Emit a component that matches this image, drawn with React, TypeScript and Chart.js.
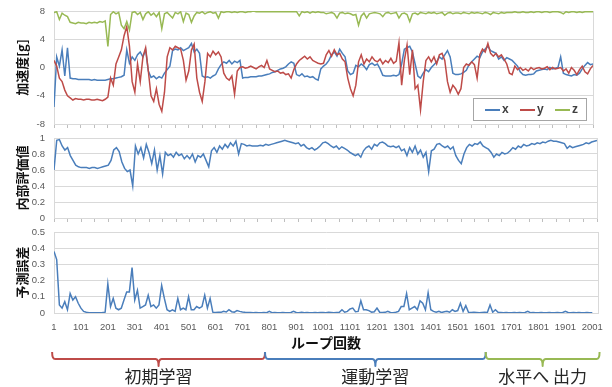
import React, { useEffect, useRef } from "react";
import { Chart, registerables } from "chart.js";

Chart.register(...registerables);

// ---- data (one value every LOOP_STEP loops, starting at loop 1) ----
const LOOP_STEP = 10;
const FIRST_LOOP = 1;
const LAST_LOOP = 2001;

const xLabelTicks = [1, 101, 201, 301, 401, 501, 601, 701, 801, 901, 1001, 1101, 1201, 1301, 1401, 1501, 1601, 1701, 1801, 1901, 2001];

const seriesNames = ["x", "y", "z"];

const accelX = [
  -5.6, 1.5, 0.2, 2.5, -1.2, 2.8, -1.5, -1.6, -1.6, -1.7,
  -1.7, -1.7, -1.7, -1.7, -1.8, -1.7, -1.8, -1.8, -1.8, -1.8,
  -1.7, -1.6, -1.6, -1.5, -1.4, -1.3, -1.1, 2.5, 0.6, 1.5,
  1.0, 1.8, 2.2, 1.5, 2.5, -0.5, -1.4, -1.2, -1.6, -1.3,
  -1.5, -0.8, -0.3, 0.2, 2.4, 2.6, 2.5, 2.8, 2.4, 2.6,
  2.8, 3.4, 2.2, 2.6, 2.0, -1.2, -1.4, -1.3, -1.5, -1.2,
  -1.0, -0.2, 0.4, 0.8, 0.6, 1.0, 0.5, 0.9, 0.7, 1.0,
  -1.5, -1.4, -1.4, -1.3, -1.3, -1.3, -1.2, -1.2, -1.1, -1.0,
  -0.9, -0.7, -0.6, -0.4, -0.2, -0.1, 0.1, 0.5, 0.8, 0.6,
  -1.0, -1.2, -0.9, -1.3, -1.2, -1.4, -1.3, -1.6, -1.8, -0.2,
  0.2, 0.5, 1.0, 1.8, 2.2, 1.6, 2.6, 2.0, 1.5, -0.5,
  -1.0, -0.8, 0.3, 0.1, 0.5, 0.2, -0.3, 0.4, 0.6, 0.3,
  0.5, -0.2, -1.1, -1.2, -1.2, -1.2, -1.1, -1.2, -1.0, 0.5,
  2.6, 2.8, 3.0, 2.2, 0.5, -1.2, -1.5, -0.8, -0.3, -0.6,
  0.0, 0.4, 0.8, 1.5, 1.2, 1.8, 2.4, 1.5, -0.8, -1.0,
  -1.0, -0.9, -0.7, -0.4, 0.4, 0.8, 1.2, 1.6, 1.4, 2.2,
  2.6, 3.0, 2.4, 2.2, 2.0, 1.2, 1.5, 1.0, 1.4, 1.2,
  1.0, 0.6, 0.2, -0.6, -1.0, -1.1, -1.0, -1.0, -0.9, -0.5,
  -0.4, -0.3, -0.2, -0.3, 0.0, -0.2, -0.1, 0.0, 1.5, -0.8,
  -1.0, -1.1, -1.2, -1.0, -1.1, -0.8, -0.2, 0.3, 0.7, 0.4,
  0.5,
];

const accelY = [
  1.0, 0.2, -1.5, -2.0, -3.2, -4.0, -4.3, -4.6, -4.4, -4.5,
  -4.5, -4.6, -4.5, -4.5, -4.6, -4.6, -4.5, -4.6, -4.7, -4.5,
  -4.2, -1.5, -2.5, 0.5, 1.5, 2.5, 4.5, 5.8, 3.0, -2.0,
  -3.5, 0.5, -2.0, 1.5, 2.8, -0.5, -4.0, -4.8, -3.0, -5.2,
  -6.2, -3.5, 1.5, 2.8, 2.5, 3.0, 2.8, 2.6, 1.0, -1.8,
  -0.5, 2.5, 3.3, -1.5, -3.5, -4.8, -2.0, 2.0, 1.5, 2.3,
  1.8, 2.2, 1.5, -0.8, -1.5, -1.8, -1.2, -3.8, -0.5, 0.0,
  0.1, -0.1, 0.0, 0.2, 0.0, -0.2, 0.1, 0.3, 0.0, 1.0,
  -0.2, -0.4, -0.6, -0.5, -0.8, -0.7, -1.0, -0.9, -1.5, -0.3,
  0.5, 1.0, 1.3, 1.6, 1.2, 1.5, 1.0, 0.8, 0.6, 0.5,
  0.6, 1.8, 2.4, 1.6, 2.5, 1.8, 2.0, 1.2, 0.8, -1.5,
  -3.0, -4.0, -2.5, 0.8, 1.8, 0.5, 1.2, 0.8, 1.5, 1.0,
  0.8, 1.2, 0.5, 1.0, 0.7, 1.3, 0.6, 0.9, 3.5, -2.5,
  1.0, 3.2, -1.0, 2.5, -3.0, -2.5, -6.0, -2.0, 1.0, 1.5,
  0.8, 1.5, 0.5, 1.8, 2.0, 1.0, -2.0, -3.5, -2.5, -3.0,
  -3.8, -3.0, 0.0, 0.5, 0.3, 0.8, 0.4, -1.5, 1.8, 2.6,
  2.2, 3.4, 2.0, 1.6, 2.0, 1.5, 1.8, 1.2, 0.5, -0.8,
  -1.0, 0.2, -0.3, 0.0, -0.4, -0.2, -0.5, 0.0, -0.3, -0.1,
  0.0, -0.2, -0.1, 0.1, -0.3, 0.0, -0.2, -0.1, 0.0, -0.5,
  -0.2, -0.8, 0.0, -0.4, -1.0, -0.3, 0.2, -0.6, -0.9, -0.2,
  0.3,
];

const accelZ = [
  7.8, 7.9, 6.8, 7.7, 7.4, 7.2, 6.4, 6.3, 6.2, 6.4,
  6.3, 6.3, 6.2, 6.4, 6.3, 6.4, 6.3, 6.5, 6.4, 6.6,
  3.0, 7.5, 7.9, 7.6, 7.8, 6.0, 5.5, 6.5, 5.3, 7.8,
  7.9, 7.5, 7.8, 6.8, 7.6, 7.9, 7.4, 7.7, 7.2, 7.8,
  5.5, 7.6, 7.8, 7.4, 7.0, 7.8, 7.6, 7.9, 6.5, 7.7,
  7.5, 6.4, 7.3, 7.8, 7.7, 7.9, 7.6, 7.8, 7.9, 7.7,
  7.8, 7.0, 7.9, 7.8, 7.9, 7.9, 7.8, 7.9, 7.8, 7.9,
  7.9, 7.8, 7.9, 7.9, 8.0, 7.9, 7.9, 7.9, 7.9, 7.9,
  7.9, 7.9, 7.9, 7.9, 7.9, 7.9, 7.9, 7.9, 7.9, 7.9,
  7.9, 7.3, 7.9, 7.8, 7.9, 7.7, 7.9, 7.8, 7.9, 7.8,
  7.8, 7.6, 7.7, 7.8, 7.6, 7.0, 7.7, 7.8, 7.6, 7.7,
  7.6, 7.4, 7.5, 6.0, 7.3, 7.7, 7.0, 7.6, 7.7, 7.8,
  7.7, 7.6, 7.2, 7.7, 7.8, 7.6, 7.7, 7.8, 7.0, 7.6,
  7.7, 7.5, 6.5, 7.6, 7.7, 7.5, 7.8, 7.7, 7.6, 7.8,
  7.7, 7.8, 7.6, 7.7, 7.8, 7.4, 7.7, 7.8, 7.6, 7.7,
  7.7, 7.6, 7.8, 7.7, 7.6, 7.8, 7.7, 7.8, 7.7, 7.6,
  7.8, 7.7, 7.5, 7.8, 7.7, 7.6, 7.8, 7.7, 7.8, 7.8,
  7.8, 7.9, 7.8, 7.8, 7.9, 7.8, 7.8, 7.9, 7.8, 7.9,
  7.9, 7.8, 7.9, 7.9, 7.8, 7.9, 7.9, 7.9, 7.8, 7.6,
  7.9, 7.8, 7.9, 7.9, 7.8, 7.9, 7.8, 7.9, 7.9, 7.9,
  7.9,
];

const internalEval = [
  0.6, 0.97, 0.98, 0.9, 0.85, 0.88, 0.78, 0.72, 0.66, 0.64,
  0.63, 0.63, 0.63, 0.62, 0.63, 0.63, 0.62, 0.63, 0.64, 0.65,
  0.66, 0.72, 0.85, 0.88, 0.83, 0.7, 0.62, 0.58, 0.6, 0.4,
  0.9, 0.8, 0.88, 0.75, 0.92, 0.82, 0.68, 0.85, 0.6, 0.78,
  0.55, 0.82, 0.78, 0.8, 0.76, 0.82, 0.78, 0.8, 0.74, 0.78,
  0.74, 0.8, 0.7, 0.78, 0.76, 0.8, 0.72, 0.64, 0.84, 0.88,
  0.82, 0.9, 0.86, 0.92, 0.88, 0.94, 0.9, 0.96, 0.8, 0.93,
  0.92, 0.9, 0.91, 0.9, 0.9, 0.9, 0.91, 0.9, 0.92, 0.91,
  0.92, 0.93, 0.94, 0.95, 0.96, 0.97, 0.96, 0.95, 0.94, 0.93,
  0.94, 0.9, 0.92, 0.88, 0.86, 0.88, 0.85, 0.87, 0.9, 0.94,
  0.95, 0.93, 0.9, 0.88, 0.9, 0.86, 0.89, 0.87, 0.85, 0.82,
  0.8, 0.78, 0.8, 0.76, 0.84, 0.88, 0.9, 0.86, 0.92, 0.9,
  0.94, 0.95, 0.93, 0.9, 0.89, 0.9, 0.88, 0.9, 0.84, 0.86,
  0.78, 0.88, 0.82, 0.9, 0.8, 0.85, 0.76, 0.82, 0.58, 0.84,
  0.86, 0.92, 0.93, 0.9, 0.88, 0.9, 0.86, 0.89, 0.78, 0.72,
  0.68, 0.8, 0.88, 0.92, 0.9, 0.93, 0.92, 0.95, 0.9, 0.88,
  0.86, 0.82, 0.76, 0.8, 0.78, 0.82, 0.8, 0.81, 0.84, 0.88,
  0.86, 0.9, 0.88, 0.92, 0.9, 0.91, 0.93, 0.92, 0.94, 0.93,
  0.95, 0.94, 0.96, 0.97, 0.96, 0.96, 0.95, 0.94, 0.93, 0.87,
  0.9, 0.88, 0.89, 0.9, 0.91, 0.92, 0.94, 0.93, 0.95, 0.96,
  0.97,
];

const predictionError = [
  0.38, 0.33, 0.05, 0.03, 0.07, 0.02, 0.12, 0.08, 0.1, 0.06,
  0.03, 0.01, 0.005, 0.002, 0.002, 0.002, 0.002, 0.002, 0.003, 0.005,
  0.18, 0.04, 0.09, 0.03, 0.02, 0.03, 0.08, 0.13, 0.13, 0.28,
  0.08, 0.14, 0.03, 0.04, 0.05, 0.11, 0.04, 0.05, 0.03, 0.05,
  0.17, 0.09, 0.02, 0.01, 0.02, 0.01, 0.09, 0.02, 0.03, 0.02,
  0.1, 0.02, 0.02, 0.04, 0.03, 0.04, 0.11, 0.03, 0.09, 0.005,
  0.003, 0.005, 0.004, 0.01, 0.006, 0.02, 0.008, 0.005, 0.015, 0.01,
  0.006, 0.004, 0.003, 0.003, 0.002, 0.003, 0.002, 0.002, 0.003, 0.002,
  0.01, 0.002, 0.003, 0.002, 0.002, 0.003, 0.002, 0.002, 0.003, 0.01,
  0.003, 0.002, 0.004, 0.002, 0.003, 0.002, 0.002, 0.003, 0.002, 0.003,
  0.003, 0.002, 0.004, 0.003, 0.002, 0.003, 0.004, 0.02, 0.005, 0.01,
  0.025, 0.03, 0.008, 0.01, 0.075, 0.02, 0.02, 0.015, 0.005, 0.008,
  0.03, 0.005, 0.003, 0.004, 0.01, 0.003, 0.002, 0.005, 0.01, 0.04,
  0.04, 0.12, 0.02, 0.03, 0.04, 0.02, 0.075, 0.06, 0.02, 0.125,
  0.02, 0.01, 0.005, 0.01, 0.003, 0.008, 0.01, 0.005, 0.02, 0.01,
  0.015, 0.06, 0.01, 0.045, 0.005, 0.003, 0.004, 0.003, 0.002, 0.003,
  0.004, 0.003, 0.05, 0.005, 0.02, 0.004, 0.003, 0.002, 0.003, 0.002,
  0.002, 0.003, 0.002, 0.003, 0.002, 0.003, 0.01, 0.002, 0.003, 0.002,
  0.002, 0.003, 0.002, 0.002, 0.003, 0.002, 0.002, 0.003, 0.002, 0.003,
  0.01, 0.003, 0.002, 0.003, 0.002, 0.003, 0.002, 0.002, 0.003, 0.002,
  0.002,
];

// learning phases shown as braces below the x axis (in loop units)
const phaseLabels = ["初期学習", "運動学習", "水平へ 出力"];
const phaseStarts = [-6, 785, 1605];
const phaseEnds = [785, 1605, 2028];

// ---- styles ----
const COLOR_X = "#4a7ebb";
const COLOR_Y = "#be4b48";
const COLOR_Z = "#98b954";
const PHASE_COLORS = [COLOR_Y, COLOR_X, COLOR_Z];
const GRID = "#d9d9d9";
const TICK_TEXT = "#595959";
const TICK_FONT = { family: '"Liberation Sans", Arial, sans-serif', size: 9.5 };
const CJK = '"Noto Sans CJK JP", "Noto Sans CJK SC", sans-serif';

const toPoints = (values: number[]) =>
  values.map((v, i) => ({ x: FIRST_LOOP + i * LOOP_STEP, y: v }));

const minorTicks = xLabelTicks.flatMap((t) => (t < LAST_LOOP ? [t, t + 50] : [t]));

function yScale(min: number, max: number, step: number, title: string) {
  return {
    type: "linear",
    position: "left",
    min,
    max,
    ticks: {
      stepSize: step,
      font: TICK_FONT,
      color: TICK_TEXT,
      padding: 9,
      callback: (v: any) => String(Number(Number(v).toFixed(3))),
    },
    grid: { color: GRID, drawTicks: false, lineWidth: 1 },
    border: { display: true, color: GRID },
    title: {
      display: true,
      text: title,
      color: "#111",
      font: { family: CJK, size: 13, weight: "bold" },
      padding: { top: 14, bottom: 0 },
    },
    afterFit: (s: any) => {
      s.width = 54;
      s.paddingTop = 0;
      s.paddingBottom = 0;
    },
  };
}

function xScale(max: number, tickValues: number[], showLabels: boolean, height: number, title?: string) {
  return {
    type: "linear",
    position: "bottom",
    min: FIRST_LOOP,
    max,
    afterBuildTicks: (s: any) => {
      s.ticks = tickValues.map((v) => ({ value: v }));
    },
    afterFit: (s: any) => {
      s.height = height;
    },
    ticks: {
      display: showLabels,
      autoSkip: false,
      maxRotation: 0,
      minRotation: 0,
      font: TICK_FONT,
      color: TICK_TEXT,
      padding: 9,
      callback: (v: any) => String(v),
    },
    grid: {
      display: true,
      drawOnChartArea: false,
      drawTicks: !showLabels,
      tickLength: 4,
      color: "#bfbfbf",
    },
    border: { display: true, color: GRID },
    title: title
      ? {
          display: true,
          text: title,
          color: "#111",
          font: { family: CJK, size: 14, weight: "bold" },
          padding: { top: 0, bottom: 2 },
        }
      : { display: false },
  };
}

const frameRightPlugin = {
  id: "frameRight",
  beforeDatasetsDraw(chart: any) {
    const { ctx, chartArea } = chart;
    ctx.save();
    ctx.strokeStyle = GRID;
    ctx.lineWidth = 1;
    ctx.beginPath();
    ctx.moveTo(Math.round(chartArea.right) + 0.5, chartArea.top);
    ctx.lineTo(Math.round(chartArea.right) + 0.5, chartArea.bottom);
    ctx.stroke();
    ctx.restore();
  },
};

const boxLegendPlugin = {
  id: "boxLegend",
  afterDatasetsDraw(chart: any) {
    const { ctx, chartArea } = chart;
    const w = 114;
    const h = 23;
    const x0 = Math.round(chartArea.right - 6 - w);
    const y0 = Math.round(chartArea.bottom - 3 - h);
    ctx.save();
    ctx.fillStyle = "#ffffff";
    ctx.fillRect(x0, y0, w, h);
    ctx.strokeStyle = "#a6a6a6";
    ctx.lineWidth = 1;
    ctx.strokeRect(x0 + 0.5, y0 + 0.5, w - 1, h - 1);
    ctx.font = 'bold 12px "Liberation Sans", Arial, sans-serif';
    ctx.textBaseline = "middle";
    ctx.textAlign = "left";
    chart.data.datasets.forEach((ds: any, i: number) => {
      const sx = x0 + 12 + i * 35;
      const cy = y0 + h / 2 + 0.5;
      ctx.strokeStyle = ds.borderColor;
      ctx.lineWidth = 2;
      ctx.beginPath();
      ctx.moveTo(sx, cy);
      ctx.lineTo(sx + 15, cy);
      ctx.stroke();
      ctx.fillStyle = "#404040";
      ctx.fillText(ds.label, sx + 17, cy);
    });
    ctx.restore();
  },
};

const phaseBracePlugin = {
  id: "phaseBraces",
  afterDraw(chart: any) {
    const { ctx, chartArea } = chart;
    const xs = chart.scales.x;
    const yTop = chartArea.bottom + 39;
    const yMid = chartArea.bottom + 46;
    const yTip = chartArea.bottom + 53;
    const yText = chartArea.bottom + 64;
    ctx.save();
    phaseLabels.forEach((label, i) => {
      const a = xs.getPixelForValue(phaseStarts[i]);
      const b = xs.getPixelForValue(phaseEnds[i]);
      const m = (a + b) / 2;
      const r = 3;
      ctx.strokeStyle = PHASE_COLORS[i];
      ctx.lineWidth = 2;
      ctx.lineJoin = "round";
      ctx.beginPath();
      ctx.moveTo(a, yTop);
      ctx.quadraticCurveTo(a, yMid, a + r, yMid);
      ctx.lineTo(m - r, yMid);
      ctx.quadraticCurveTo(m, yMid, m, yTip);
      ctx.quadraticCurveTo(m, yMid, m + r, yMid);
      ctx.lineTo(b - r, yMid);
      ctx.quadraticCurveTo(b, yMid, b, yTop);
      ctx.stroke();
      ctx.fillStyle = "#262626";
      ctx.font = `17px ${CJK}`;
      ctx.textAlign = "center";
      ctx.textBaseline = "middle";
      ctx.fillText(label, m, yText);
    });
    ctx.restore();
  },
};

const baseOptions = {
  responsive: false,
  maintainAspectRatio: false,
  animation: false,
  events: [],
  plugins: { legend: { display: false }, tooltip: { enabled: false } },
};

const lineDataset = (label: string, values: number[], color: string, order: number) => ({
  label,
  data: toPoints(values),
  borderColor: color,
  backgroundColor: color,
  borderWidth: 1.5,
  pointRadius: 0,
  tension: 0,
  fill: false,
  order,
});

export default function App() {
  const accRef = useRef<HTMLCanvasElement>(null);
  const evalRef = useRef<HTMLCanvasElement>(null);
  const errRef = useRef<HTMLCanvasElement>(null);

  useEffect(() => {
    const accChart = new Chart(accRef.current as HTMLCanvasElement, {
      type: "line",
      data: {
        datasets: [
          lineDataset(seriesNames[0], accelX, COLOR_X, 3),
          lineDataset(seriesNames[1], accelY, COLOR_Y, 2),
          lineDataset(seriesNames[2], accelZ, COLOR_Z, 1),
        ],
      },
      options: {
        ...baseOptions,
        layout: { padding: { top: 11, right: 19, left: 0, bottom: 0 } },
        scales: {
          x: xScale(LAST_LOOP, minorTicks, false, 6),
          y: yScale(-8, 8, 2, "加速度[g]"),
        },
      } as any,
      plugins: [frameRightPlugin, boxLegendPlugin],
    });

    const evalChart = new Chart(evalRef.current as HTMLCanvasElement, {
      type: "line",
      data: { datasets: [lineDataset("内部評価値", internalEval, COLOR_X, 1)] },
      options: {
        ...baseOptions,
        layout: { padding: { top: 13, right: 15, left: 0, bottom: 0 } },
        scales: {
          x: xScale(LAST_LOOP, minorTicks, false, 7),
          y: yScale(0, 1, 0.2, "内部評価値"),
        },
      } as any,
      plugins: [frameRightPlugin],
    });

    const errChart = new Chart(errRef.current as HTMLCanvasElement, {
      type: "line",
      data: { datasets: [lineDataset("予測誤差", predictionError, COLOR_X, 1)] },
      options: {
        ...baseOptions,
        layout: { padding: { top: 7, right: 12, left: 0, bottom: 34 } },
        scales: {
          x: xScale(2023, xLabelTicks, true, 40, "ループ回数"),
          y: yScale(0, 0.5, 0.1, "予測誤差"),
        },
      } as any,
      plugins: [frameRightPlugin, phaseBracePlugin],
    });

    return () => {
      accChart.destroy();
      evalChart.destroy();
      errChart.destroy();
    };
  }, []);

  const canvasStyle = (top: number, height: number): React.CSSProperties => ({
    position: "absolute",
    left: 0,
    top,
    width: 612,
    height,
  });

  return (
    <div
      style={{
        position: "absolute",
        left: 0,
        top: 0,
        width: 612,
        height: 387,
        background: "#ffffff",
        overflow: "hidden",
      }}
    >
      <canvas ref={accRef} width={612} height={130} style={canvasStyle(0, 130)} />
      <canvas ref={evalRef} width={612} height={100} style={canvasStyle(125, 100)} />
      <canvas ref={errRef} width={612} height={162} style={canvasStyle(225, 162)} />
    </div>
  );
}
